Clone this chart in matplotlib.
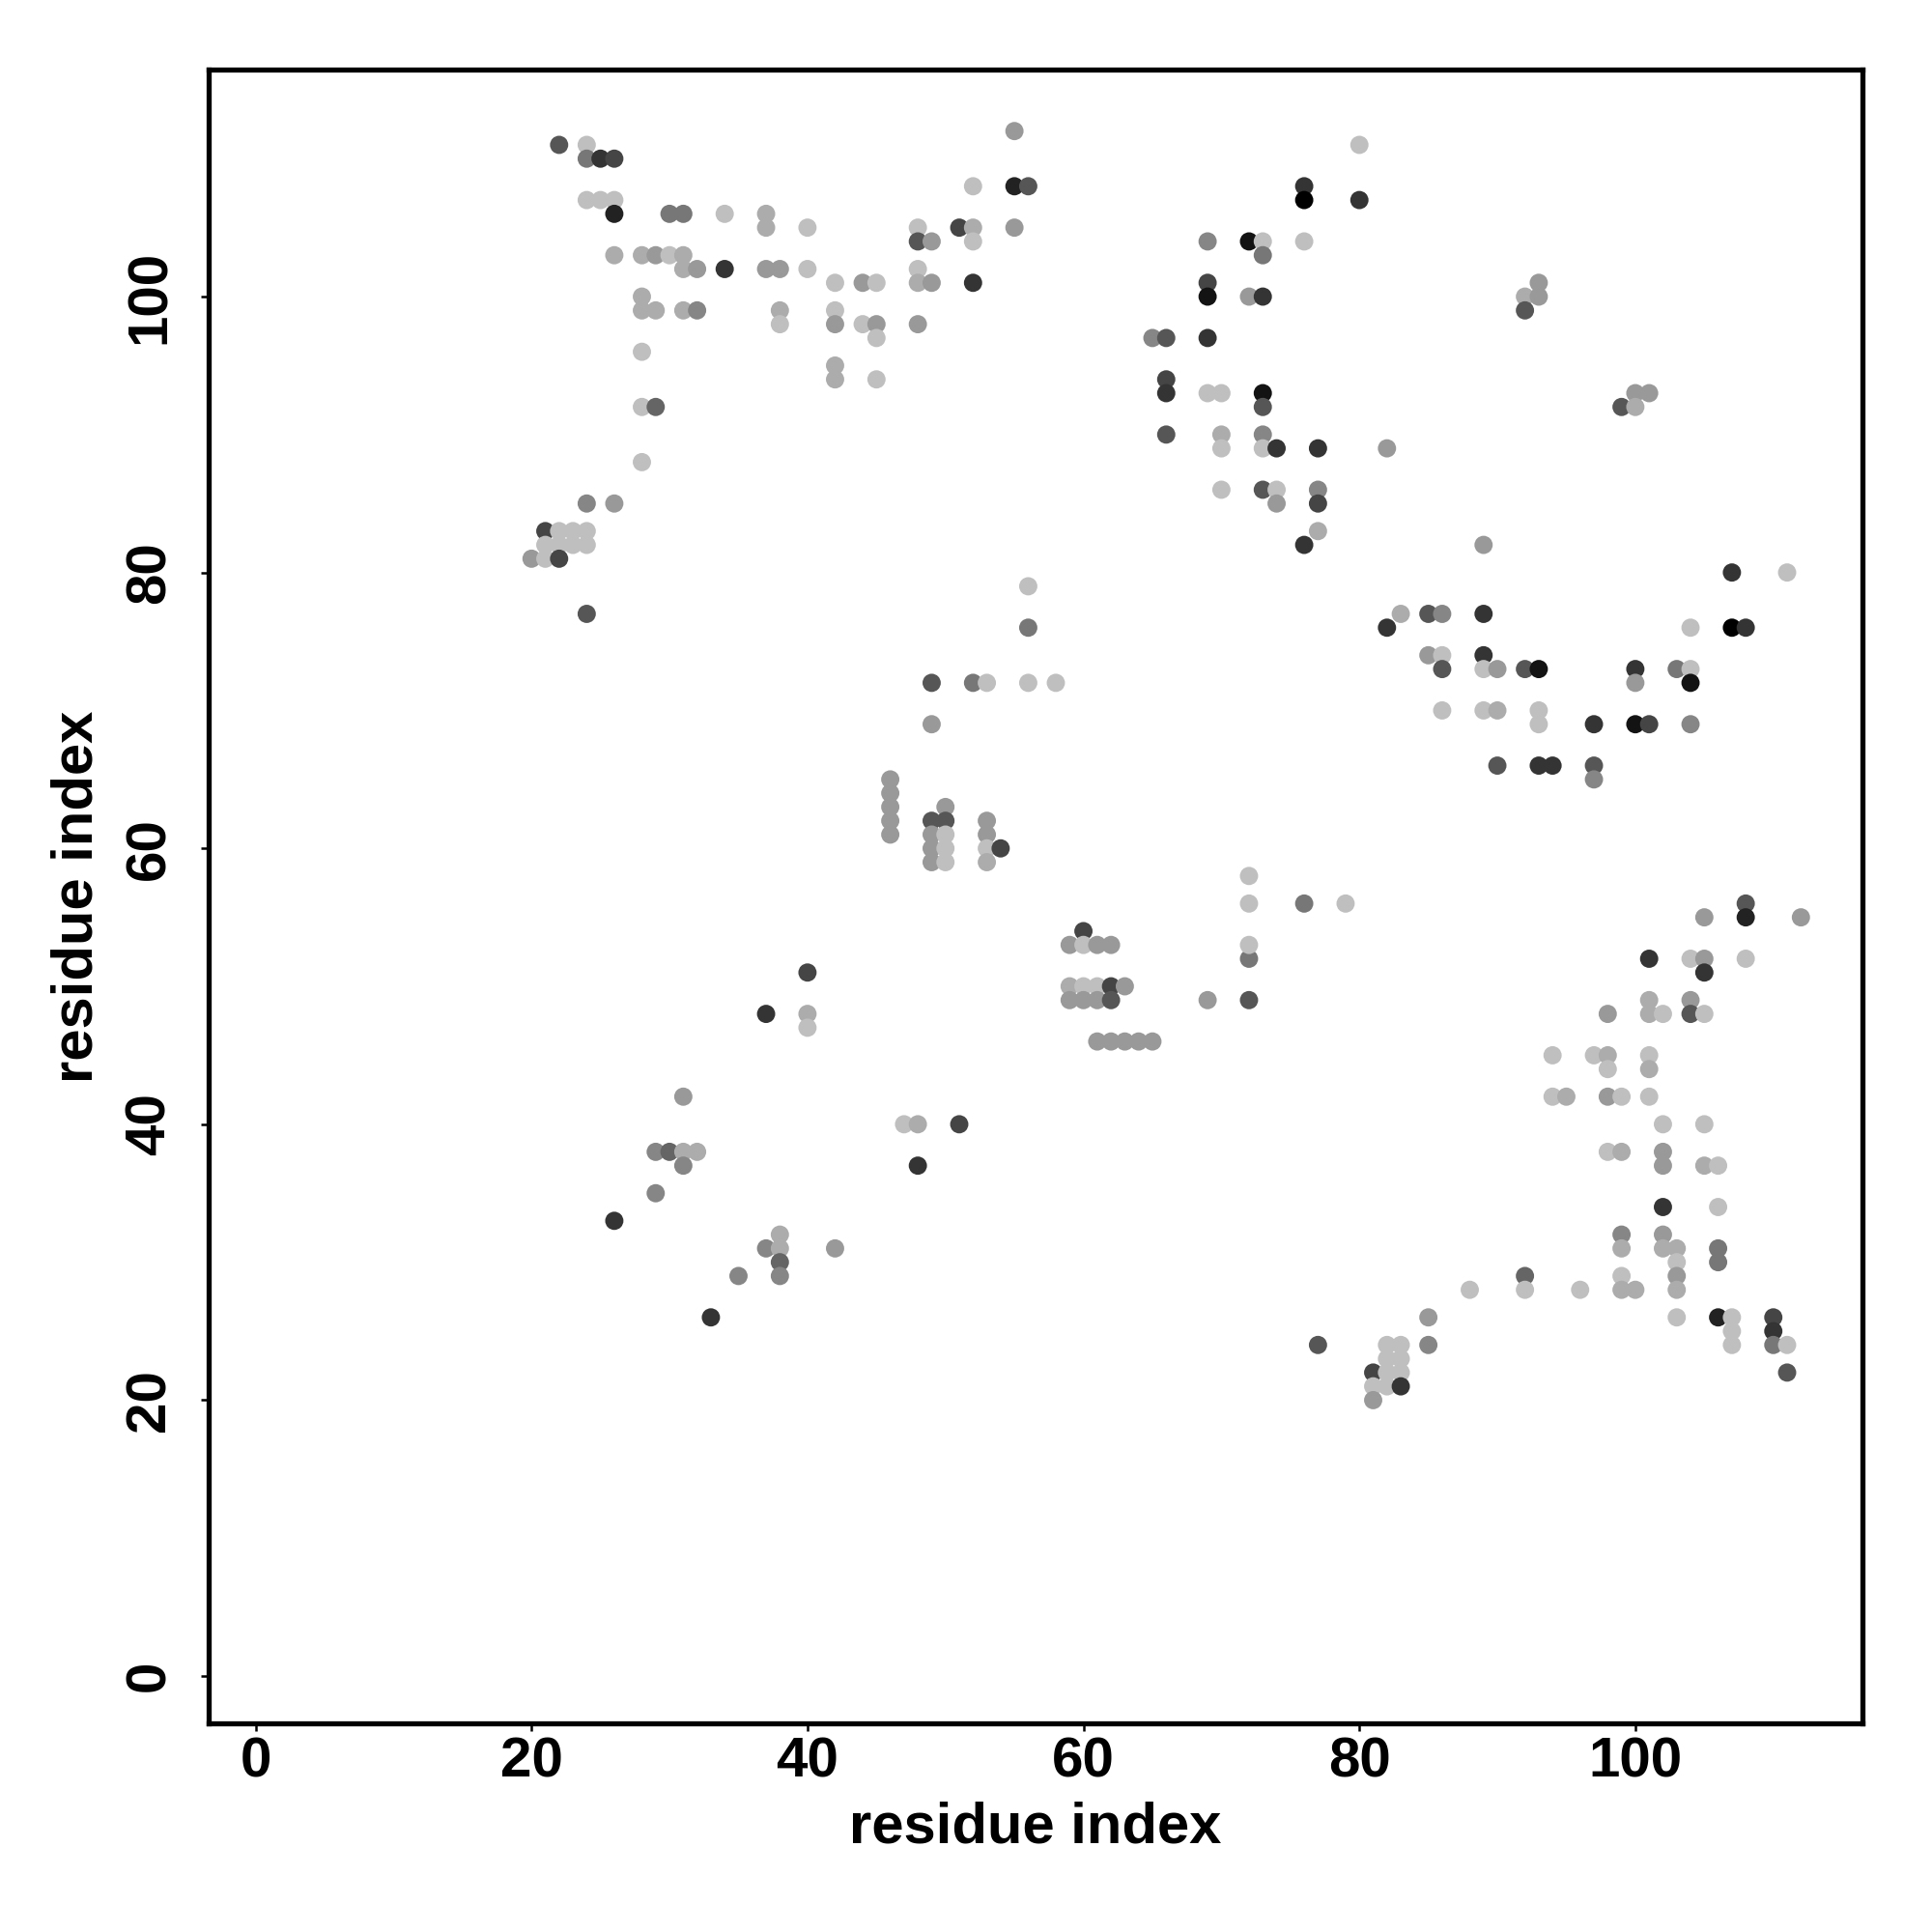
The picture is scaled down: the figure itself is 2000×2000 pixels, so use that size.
import matplotlib
matplotlib.use("Agg")
import matplotlib.pyplot as plt

# (residue i, residue j, contact score 0..1 ; darker = higher score)
contacts_upper_left = [
    (22,111,.55),(24,111,0),(24,110,.38),(25,110,.73),(26,110,.64),
    (24,107,0),(25,107,0),(26,107,0),(26,106,.82),
    (26,103,.1),(28,103,.1),(29,103,.2),(30,103,0),(31,103,.1),(31,102,.1),(32,102,.2),(34,102,.73),
    (30,106,.38),(31,106,.38),(34,106,0),
    (37,106,.1),(37,105,.1),(40,105,0),(37,102,.2),(38,102,.2),(40,102,0),
    (42,101,0),(44,101,.2),(45,101,0),
    (48,105,0),(48,104,.55),(49,104,.2),(48,102,0),(48,101,.1),(49,101,.2),
    (28,100,.1),(28,99,.1),(29,99,.1),(31,99,.1),(32,99,.3),
    (38,99,.1),(38,98,0),(42,99,0),(42,98,.2),(44,98,0),(45,98,.2),(45,97,0),(48,98,.2),
    (28,96,0),(42,95,.1),(42,94,.1),(45,94,0),
    (28,92,0),(29,92,.47),(28,88,0),(24,85,.3),(26,85,.2),
    (21,83,.64),(22,83,0),(23,83,0),(24,83,0),
    (21,82,0),(22,82,0),(23,82,0),(24,82,0),
    (20,81,.2),(21,81,0),(22,81,.64),(24,77,.55),
    (52,108,0),(55,108,.82),(56,108,.55),(55,112,.2),
    (51,105,.64),(52,105,.1),(52,104,0),(55,105,.2),(52,101,.73),
]

contacts_upper_right = [
    (80,111,0),(80,107,.73),(76,108,.73),(76,107,1.0),
    (69,104,.3),(72,104,.9),(73,104,0),(73,103,.38),(76,104,0),
    (69,101,.64),(69,100,.9),(72,100,.2),(73,100,.73),
    (65,97,.3),(66,97,.55),(69,97,.73),
    (66,94,.64),(66,93,.73),(69,93,0),(70,93,0),(73,93,.9),(73,92,.55),
    (66,90,.55),(70,90,.1),(70,89,0),(73,90,.3),(73,89,0),(74,89,.73),(77,89,.73),
    (70,86,0),(73,86,.55),(74,86,0),(74,85,.2),(77,86,.3),(77,85,.64),
    (77,83,.1),(76,82,.73),(82,89,.2),
    (93,101,.2),(92,100,.1),(93,100,.2),(92,99,.55),
    (100,93,.2),(101,93,.2),(99,92,.55),(100,92,.1),
]

contacts_right_middle = [
    (89,82,.2),(107,80,.73),(111,80,0),
    (83,77,.1),(85,77,.55),(86,77,.3),(89,77,.73),(82,76,.73),
    (104,76,0),(107,76,1.0),(108,76,.73),
    (85,74,.2),(86,74,0),(86,73,.55),(89,74,.73),(89,73,0),(90,73,.2),(92,73,.55),(93,73,.9),
    (100,73,.73),(100,72,.2),(103,73,.38),(104,73,0),(104,72,.9),
    (86,70,0),(89,70,0),(90,70,.1),(93,70,0),(93,69,0),
    (97,69,.73),(100,69,.9),(101,69,.64),(104,69,.3),
    (90,66,.55),(93,66,.73),(94,66,.73),(97,66,.55),(97,65,.3),
]

contacts_middle = [
    (56,79,0),(56,76,.38),(49,72,.55),(49,69,.2),(52,72,.38),(53,72,0),(56,72,0),(58,72,0),
    (46,65,.2),(46,64,.2),(46,63,.2),(46,62,.2),(46,61,.2),
    (50,63,.2),(49,62,.55),(50,62,.55),(49,61,.2),(49,60,.2),(49,59,.2),(50,61,0),(50,60,0),(50,59,0),
    (53,62,.2),(53,61,.2),(53,60,0),(53,59,.1),(54,60,.64),
    (60,54,.64),(59,53,.2),(60,53,0),(61,53,.2),(62,53,.2),
    (59,50,.1),(60,50,0),(61,50,0),(62,50,.64),(63,50,.2),
    (59,49,.2),(60,49,.2),(61,49,.2),(62,49,.55),
    (61,46,.2),(62,46,.2),(63,46,.2),(64,46,.2),(65,46,.2),
    (69,49,.2),(72,49,.55),(72,52,.38),(72,53,0),(72,56,0),(72,58,0),(76,56,.38),(79,56,0),
]

contacts_lower_left = [
    (40,51,.64),(37,48,.73),(40,48,.1),(40,47,0),(31,42,.2),(47,40,0),(48,40,.1),(51,40,.64),(48,37,.73),
    (29,38,.3),(30,38,.47),(31,38,.1),(32,38,.1),(31,37,.3),(29,35,.3),(26,33,.73),
    (38,32,.1),(37,31,.3),(38,31,.1),(38,30,.47),(38,29,.3),(35,29,.3),(42,31,.2),(33,26,.73),
]

contacts_lower_right = [
    (108,56,.55),(108,55,.82),(105,55,.2),(112,55,.2),
    (101,52,.73),(104,52,0),(105,52,.2),(108,52,0),(105,51,.73),
    (101,49,.1),(101,48,.1),(102,48,0),(104,49,.2),(104,48,.55),(105,48,0),(98,48,.2),
    (94,45,0),(97,45,0),(98,45,.1),(98,44,0),(101,45,0),(101,44,.1),
    (94,42,0),(95,42,.1),(98,42,.2),(99,42,0),(101,42,0),
    (102,40,0),(105,40,0),(98,38,0),(99,38,.1),(102,38,.2),(102,37,.2),(105,37,.1),(106,37,0),
    (102,34,.73),(106,34,0),
    (99,32,.3),(99,31,.1),(102,32,.2),(102,31,.1),(103,31,.1),(103,30,0),(103,29,.2),(103,28,.1),
    (106,31,.38),(106,30,.38),
    (92,29,.47),(92,28,0),(88,28,0),(96,28,0),(99,29,0),(99,28,.1),(100,28,.1),
    (103,26,0),(106,26,.82),(107,26,0),(107,25,0),(107,24,0),
    (110,26,.64),(110,25,.73),(110,24,.38),(111,24,0),(111,22,.55),
    (85,26,.2),(85,24,.3),
    (82,24,0),(83,24,0),(82,23,0),(83,23,0),(81,22,.64),(82,22,0),(83,22,0),
    (81,21,0),(82,21,0),(83,21,.73),(81,20,.2),
    (77,24,.55),
]

tick_values = [0, 20, 40, 60, 80, 100]
axis_title = "residue index"

all_contacts = (contacts_upper_left + contacts_upper_right + contacts_right_middle
                + contacts_middle + contacts_lower_left + contacts_lower_right)
res_i = [c[0] for c in all_contacts]
res_j = [c[1] for c in all_contacts]
score = [c[2] for c in all_contacts]
colors = [str(round(0.75 * (1 - s), 3)) for s in score]

plt.rcParams['font.family'] = ['Liberation Sans', 'DejaVu Sans']
plt.rcParams['font.weight'] = 'bold'

fig = plt.figure(figsize=(20, 20), dpi=100)
ax = fig.add_axes([0.108, 0.108, 0.856, 0.856])
ax.scatter(res_i, res_j, c=colors, s=185, linewidths=0, zorder=3)

ax.set_xlim(-3.4, 116.46)
ax.set_ylim(-3.43, 116.46)
ax.set_xticks(tick_values)
ax.set_yticks(tick_values)
ax.set_xticklabels([str(t) for t in tick_values], fontsize=42, fontweight='bold')
ax.set_yticklabels([str(t) for t in tick_values], fontsize=42, fontweight='bold',
                   rotation=90, va='center')
ax.tick_params(axis='both', direction='out', length=6, width=1.8, color='black')
ax.tick_params(axis='x', pad=4)
ax.tick_params(axis='y', pad=18)
for sp in ax.spines.values():
    sp.set_linewidth(3.8)
    sp.set_color('black')

ax.set_xlabel(axis_title, fontsize=43, fontweight='bold')
ax.set_ylabel(axis_title, fontsize=43, fontweight='bold')
ax.xaxis.set_label_coords(0.5, -0.0631)
ax.xaxis.label.set_va('center')
ax.yaxis.set_label_coords(-0.0794, 0.5)
ax.yaxis.label.set_va('center')

fig.savefig("out.png", dpi=100, facecolor='white')
